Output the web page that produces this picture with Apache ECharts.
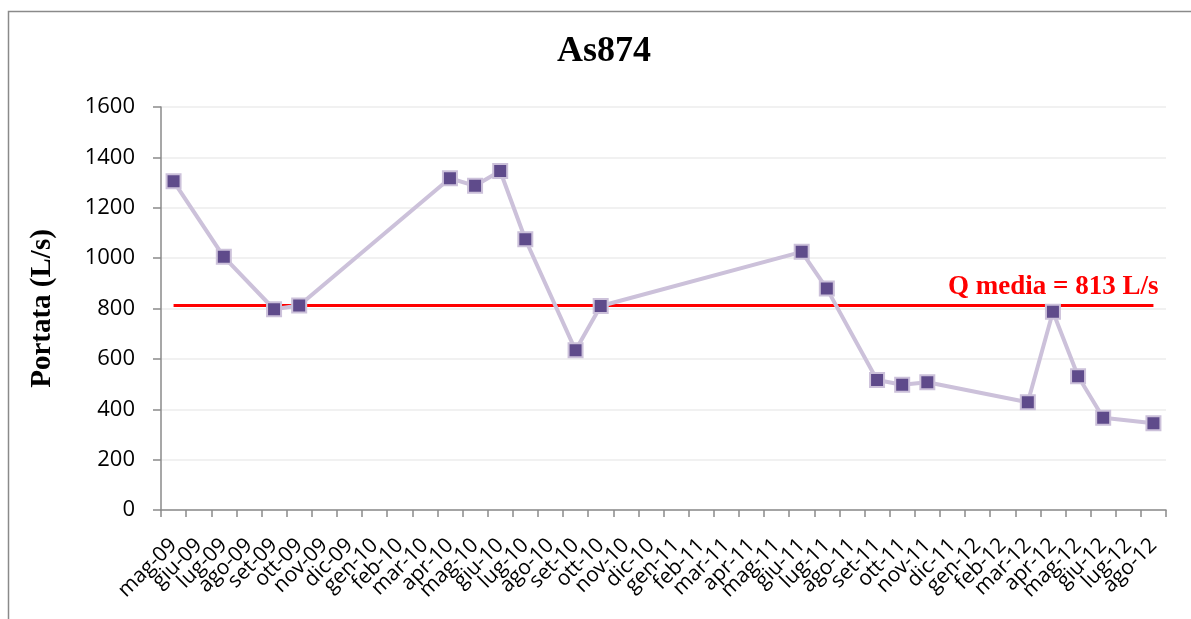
<!DOCTYPE html>
<html>
<head>
<meta charset="utf-8">
<script src="https://cdn.jsdelivr.net/npm/echarts@6/dist/echarts.min.js"></script>
<style>
  html, body { margin: 0; padding: 0; background: #fff; }
  #chart { width: 1191px; height: 619px; }
</style>
</head>
<body>
<div id="chart"></div>
<script>
// Monthly categories, May 2009 – August 2012
const months = [
  'mag-09','giu-09','lug-09','ago-09','set-09','ott-09','nov-09','dic-09',
  'gen-10','feb-10','mar-10','apr-10','mag-10','giu-10','lug-10','ago-10',
  'set-10','ott-10','nov-10','dic-10','gen-11','feb-11','mar-11','apr-11',
  'mag-11','giu-11','lug-11','ago-11','set-11','ott-11','nov-11','dic-11',
  'gen-12','feb-12','mar-12','apr-12','mag-12','giu-12','lug-12','ago-12'
];

// Measured discharge (L/s); null where no measurement was taken
const portata = [
  1305, null, 1005, null, 797, 812, null, null,
  null, null, null, 1317, 1287, 1346, 1075, null,
  634, 810, null, null, null, null, null, null,
  null, 1025, 879, null, 516, 497, 507, null,
  null, null, 428, 787, 531, 366, null, 344
];

// Mean discharge (L/s)
const qMedia = 813;

const yTicks = [0, 200, 400, 600, 800, 1000, 1200, 1400, 1600];

const chart = echarts.init(document.getElementById('chart'), null, { renderer: 'canvas' });

chart.setOption({
  backgroundColor: '#ffffff',
  animation: false,
  graphic: [
    {
      type: 'rect',
      shape: { x: 8.5, y: 11.5, width: 1200, height: 640 },
      style: { fill: 'none', stroke: '#8a8a8a', lineWidth: 1.5 },
      silent: true
    },
    {
      type: 'text',
      left: 557,
      top: 34,
      style: {
        text: 'As874',
        font: 'bold 36px "Liberation Serif"',
        fill: '#000'
      },
      silent: true
    }
  ],
  grid: { left: 161, right: 25, top: 107, bottom: 109, containLabel: false },
  xAxis: {
    type: 'category',
    data: months,
    boundaryGap: true,
    axisLine: { show: true, lineStyle: { color: '#8a8a8a', width: 1.5 } },
    axisTick: { show: true, alignWithLabel: false, length: 7, lineStyle: { color: '#8a8a8a', width: 1.5 } },
    axisLabel: {
      interval: 0,
      rotate: 45,
      margin: 32,
      fontFamily: 'Open Sans',
      fontSize: 21,
      color: '#000'
    },
    splitLine: { show: false }
  },
  yAxis: {
    type: 'value',
    min: yTicks[0],
    max: yTicks[yTicks.length - 1],
    interval: 200,
    name: 'Portata (L/s)',
    nameLocation: 'middle',
    nameGap: 104,
    nameRotate: 90,
    nameTextStyle: {
      fontFamily: 'Liberation Serif',
      fontWeight: 'bold',
      fontSize: 29,
      color: '#000'
    },
    axisLine: { show: true, lineStyle: { color: '#8a8a8a', width: 1.5 } },
    axisTick: { show: true, inside: false, length: 8, lineStyle: { color: '#8a8a8a', width: 1.5 } },
    axisLabel: {
      margin: 26,
      fontFamily: 'Open Sans',
      fontSize: 22,
      color: '#000',
      formatter: function (v) { return String(v); }
    },
    splitLine: { show: true, lineStyle: { color: '#ececec', width: 1.5 } }
  },
  series: [
    {
      name: 'Portata',
      type: 'line',
      data: portata,
      connectNulls: true,
      symbol: 'rect',
      symbolSize: 14,
      lineStyle: { color: '#ccc1da', width: 4 },
      itemStyle: { color: '#5f4b8b', borderColor: '#ccc1da', borderWidth: 2 },
      z: 3,
      markLine: {
        silent: true,
        symbol: ['none', 'none'],
        lineStyle: { color: '#ff0000', width: 3, type: 'solid' },
        label: {
          show: true,
          position: 'insideEndTop',
          distance: [-5, 5],
          formatter: 'Q media = ' + qMedia + ' L/s',
          fontFamily: 'Liberation Serif',
          fontWeight: 'bold',
          fontSize: 27,
          color: '#ff0000'
        },
        data: [
          [
            { coord: [months[0], qMedia] },
            { coord: [months[months.length - 1], qMedia] }
          ]
        ],
        z: 2
      }
    }
  ]
});
</script>
</body>
</html>
